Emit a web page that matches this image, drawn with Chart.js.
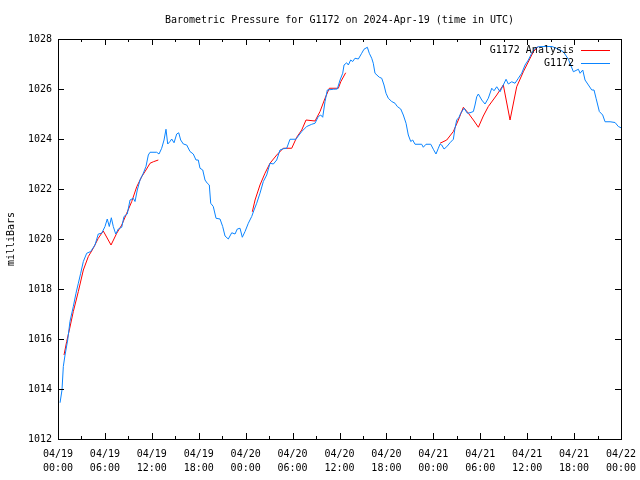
<!DOCTYPE html>
<html>
<head>
<meta charset="utf-8">
<script src="https://cdn.jsdelivr.net/npm/chart.js@4/dist/chart.umd.min.js"></script>
<style>
  html, body { margin: 0; padding: 0; background: #fff; }
  #chart { display: block; }
</style>
</head>
<body>
<canvas id="chart" width="640" height="480"></canvas>
<script>
// Datos (horas desde 04/19 00:00 UTC, milibares)
const obsHours = [0.26, 0.51, 0.68, 0.9, 1.24, 1.53, 1.96, 2.3, 2.6, 2.9, 3.24, 3.67, 4.18, 4.73, 5.15, 5.59, 6.01, 6.3, 6.56, 6.82,
  7.07, 7.38, 7.71, 8.15, 8.44, 8.86, 9.21, 9.63, 9.85, 10.14, 10.49, 10.91, 11.25, 11.55, 11.77, 12.62, 12.92, 13.26, 13.56, 13.81,
  14.03, 14.32, 14.54, 14.84, 15.18, 15.44, 15.69, 16.03, 16.46, 16.88, 17.3, 17.65, 17.94, 18.16, 18.51, 18.8, 19.09, 19.35, 19.53, 19.86,
  20.21, 20.72, 21.06, 21.36, 21.78, 22.22, 22.64, 22.93, 23.28, 23.57, 23.92, 24.34, 24.77, 25.07, 25.41, 25.83, 26.26, 26.69, 27.11, 27.54,
  27.97, 28.39, 28.81, 29.25, 29.67, 30.44, 30.73, 31.17, 31.81, 32.45, 32.87, 33.29, 33.6, 33.85, 34.15, 34.44, 35.21, 35.72, 36.07, 36.41,
  36.58, 36.92, 37.13, 37.43, 37.69, 37.98, 38.41, 38.84, 39.13, 39.56, 39.81, 40.12, 40.32, 40.54, 41.09, 41.4, 41.69, 41.95, 42.24, 42.68,
  43.1, 43.39, 43.83, 44.16, 44.51, 44.8, 45.11, 45.36, 45.66, 46.51, 46.72, 47.06, 47.67, 48.0, 48.34, 48.64, 48.86, 49.07, 49.37, 49.71,
  50.13, 50.56, 50.77, 50.99, 51.29, 51.5, 51.93, 52.35, 52.69, 53.12, 53.33, 53.55, 53.76, 54.19, 54.61, 55.03, 55.47, 55.76, 56.11, 56.53,
  56.95, 57.3, 57.59, 58.03, 58.45, 58.87, 59.3, 59.73, 60.15, 60.58, 61.0, 61.43, 62.28, 63.18, 63.95, 64.63, 65.27, 65.91, 66.55, 66.77,
  67.11, 67.4, 67.83, 68.26, 68.55, 68.81, 69.23, 69.66, 69.96, 70.6, 71.24, 71.66, 72.0];
const obsPressure = [1013.45, 1013.96, 1014.9, 1015.36, 1015.96, 1016.7, 1017.3, 1017.83, 1018.23, 1018.63, 1019.1, 1019.43, 1019.5, 1019.76, 1020.2, 1020.23, 1020.5, 1020.8, 1020.5, 1020.85,
  1020.5, 1020.2, 1020.4, 1020.47, 1020.9, 1021.0, 1021.56, 1021.63, 1021.5, 1021.96, 1022.36, 1022.63, 1022.9, 1023.36, 1023.47, 1023.47, 1023.4, 1023.63, 1023.96, 1024.39,
  1023.8, 1023.9, 1024.0, 1023.85, 1024.2, 1024.25, 1023.96, 1023.8, 1023.76, 1023.5, 1023.4, 1023.16, 1023.16, 1022.83, 1022.76, 1022.36, 1022.23, 1022.16, 1021.43, 1021.3,
  1020.83, 1020.8, 1020.5, 1020.12, 1020.0, 1020.25, 1020.2, 1020.4, 1020.43, 1020.07, 1020.3, 1020.63, 1020.9, 1021.16, 1021.43, 1021.83, 1022.3, 1022.56, 1023.03, 1023.0,
  1023.16, 1023.56, 1023.61, 1023.63, 1023.99, 1023.99, 1024.12, 1024.3, 1024.5, 1024.59, 1024.63, 1024.9, 1024.96, 1024.87, 1025.5, 1025.96, 1025.99, 1026.0, 1026.36, 1026.63,
  1026.96, 1027.05, 1026.96, 1027.16, 1027.1, 1027.23, 1027.2, 1027.43, 1027.59, 1027.67, 1027.43, 1027.23, 1027.03, 1026.63, 1026.47, 1026.43, 1026.16, 1025.83, 1025.63, 1025.5,
  1025.43, 1025.3, 1025.2, 1024.96, 1024.63, 1024.16, 1023.9, 1023.96, 1023.79, 1023.79, 1023.67, 1023.79, 1023.79, 1023.59, 1023.4, 1023.63, 1023.8, 1023.76, 1023.6, 1023.69,
  1023.85, 1023.99, 1024.43, 1024.76, 1024.87, 1025.03, 1025.23, 1025.03, 1025.05, 1025.1, 1025.36, 1025.69, 1025.8, 1025.56, 1025.4, 1025.63, 1026.03, 1025.93, 1026.09, 1025.89,
  1026.16, 1026.39, 1026.2, 1026.29, 1026.23, 1026.43, 1026.63, 1026.96, 1027.16, 1027.43, 1027.63, 1027.69, 1027.7, 1027.7, 1027.6, 1027.49, 1027.19, 1026.69, 1026.79, 1026.63,
  1026.76, 1026.36, 1026.16, 1025.96, 1025.96, 1025.63, 1025.1, 1024.96, 1024.69, 1024.69, 1024.66, 1024.5, 1024.45];

// null = hueco en el analisis
const anaHours = [0.77, 1.11, 1.45, 1.96, 2.6, 3.24, 3.88, 4.51, 5.15, 5.79, 6.78, 7.51, 8.15, 8.79, 9.43, 10.07, 10.7, 11.25, 11.77, 12.19, 12.83,
  18.0,
  24.85, 25.2, 25.83, 26.47, 27.11, 27.97, 28.81, 29.89, 30.53, 31.17, 31.72, 32.87, 33.51, 34.15, 34.7, 35.85, 36.16, 36.79,
  42.0,
  48.86, 49.71, 50.56, 51.2, 51.84, 52.48, 53.12, 53.76, 54.39, 55.03, 56.11, 56.95, 57.81, 58.66, 59.51, 60.79, 61.4];
const anaPressure = [1015.36, 1015.9, 1016.36, 1017.1, 1017.9, 1018.76, 1019.3, 1019.63, 1020.03, 1020.32, 1019.76, 1020.23, 1020.56, 1021.03, 1021.5, 1022.09, 1022.49, 1022.76, 1023.03, 1023.09, 1023.16,
  null,
  1021.09, 1021.56, 1022.16, 1022.63, 1023.03, 1023.36, 1023.63, 1023.63, 1024.07, 1024.36, 1024.76, 1024.72, 1025.1, 1025.63, 1026.03, 1026.03, 1026.29, 1026.65,
  null,
  1023.83, 1023.96, 1024.3, 1024.76, 1025.27, 1025.03, 1024.76, 1024.47, 1024.92, 1025.3, 1025.76, 1026.16, 1024.76, 1026.09, 1026.69, 1027.49, 1027.7];

const days = ['04/19', '04/20', '04/21', '04/22'];
const yMin = 1012, yMax = 1028, yStep = 2;
const xMax = 72, xStep = 6, xMinorStep = 3;

const titleText = 'Barometric Pressure for G1172 on 2024-Apr-19 (time in UTC)';
const yTitle = 'milliBars';
const fuente = '10px "DejaVu Sans Mono"';

function pares(xs, ys) {
  return xs.map((h, i) => ({ x: h, y: ys[i] }));
}

function etiquetaHora(h) {
  const d = Math.floor(h / 24);
  const hh = String(h % 24).padStart(2, '0');
  return [days[d], hh + ':00'];
}

// Marco, ticks hacia adentro, titulo, leyenda (estilo gnuplot)
const decoraciones = {
  id: 'decoraciones',
  afterDatasetsDraw(chart) {
    const ctx = chart.ctx;
    const a = chart.chartArea;
    const xs = chart.scales.x, ys = chart.scales.y;
    ctx.save();
    ctx.strokeStyle = '#000';
    ctx.lineWidth = 1;
    ctx.beginPath();
    for (let v = yMin; v <= yMax; v += yStep) {
      const y = Math.round(ys.getPixelForValue(v)) + 0.5;
      ctx.moveTo(a.left, y); ctx.lineTo(a.left + 6, y);
      ctx.moveTo(a.right, y); ctx.lineTo(a.right - 6, y);
    }
    for (let h = 0; h <= xMax; h += xMinorStep) {
      const x = Math.round(xs.getPixelForValue(h)) + 0.5;
      const len = h % xStep === 0 ? 6 : 3;
      ctx.moveTo(x, a.bottom); ctx.lineTo(x, a.bottom - len);
      ctx.moveTo(x, a.top); ctx.lineTo(x, a.top + len);
    }
    ctx.stroke();
    ctx.strokeRect(Math.round(a.left) + 0.5, Math.round(a.top) + 0.5,
      Math.round(a.right - a.left), Math.round(a.bottom - a.top));

    ctx.fillStyle = '#000';
    ctx.font = fuente;
    ctx.textAlign = 'center';
    ctx.textBaseline = 'middle';
    ctx.fillText(titleText, (a.left + a.right) / 2, 20);

    ctx.save();
    ctx.translate(11, (a.top + a.bottom) / 2);
    ctx.rotate(-Math.PI / 2);
    ctx.fillText(yTitle, 0, 0);
    ctx.restore();

    // leyenda
    ctx.textAlign = 'right';
    chart.data.datasets.forEach((ds, i) => {
      const y = 50 + i * 13;
      ctx.fillStyle = '#000';
      ctx.fillText(ds.label, 574, y);
      ctx.strokeStyle = ds.borderColor;
      ctx.beginPath();
      ctx.moveTo(581, y + 0.5); ctx.lineTo(610, y + 0.5);
      ctx.stroke();
    });
    ctx.restore();
  }
};

new Chart(document.getElementById('chart'), {
  type: 'line',
  data: {
    datasets: [{
      label: 'G1172 Analysis',
      data: pares(anaHours, anaPressure),
      borderColor: '#ff0000',
      borderWidth: 1,
      pointRadius: 0,
      tension: 0,
      spanGaps: false,
      order: 1
    }, {
      label: 'G1172',
      data: pares(obsHours, obsPressure),
      borderColor: '#0a84ff',
      borderWidth: 1,
      pointRadius: 0,
      tension: 0,
      order: 0
    }]
  },
  options: {
    responsive: false,
    animation: false,
    events: [],
    layout: { padding: { top: 39, right: 19, left: 0, bottom: 0 } },
    plugins: { legend: { display: false }, tooltip: { enabled: false } },
    scales: {
      x: {
        type: 'linear',
        min: 0,
        max: xMax,
        grid: { display: false, drawTicks: false },
        border: { display: false },
        afterFit: s => { s.height = 41; s.paddingLeft = 0; s.paddingRight = 0; },
        ticks: {
          stepSize: xStep,
          padding: 8,
          color: '#000',
          font: { family: 'DejaVu Sans Mono', size: 10, lineHeight: 1.4 },
          maxRotation: 0,
          autoSkip: false,
          callback: v => etiquetaHora(v)
        }
      },
      y: {
        min: yMin,
        max: yMax,
        grid: { display: false, drawTicks: false },
        border: { display: false },
        afterFit: s => { s.width = 58; s.paddingTop = 0; s.paddingBottom = 0; },
        ticks: {
          stepSize: yStep,
          padding: 6,
          color: '#000',
          font: { family: 'DejaVu Sans Mono', size: 10 },
          callback: v => String(v)
        }
      }
    }
  },
  plugins: [decoraciones]
});
</script>
</body>
</html>
